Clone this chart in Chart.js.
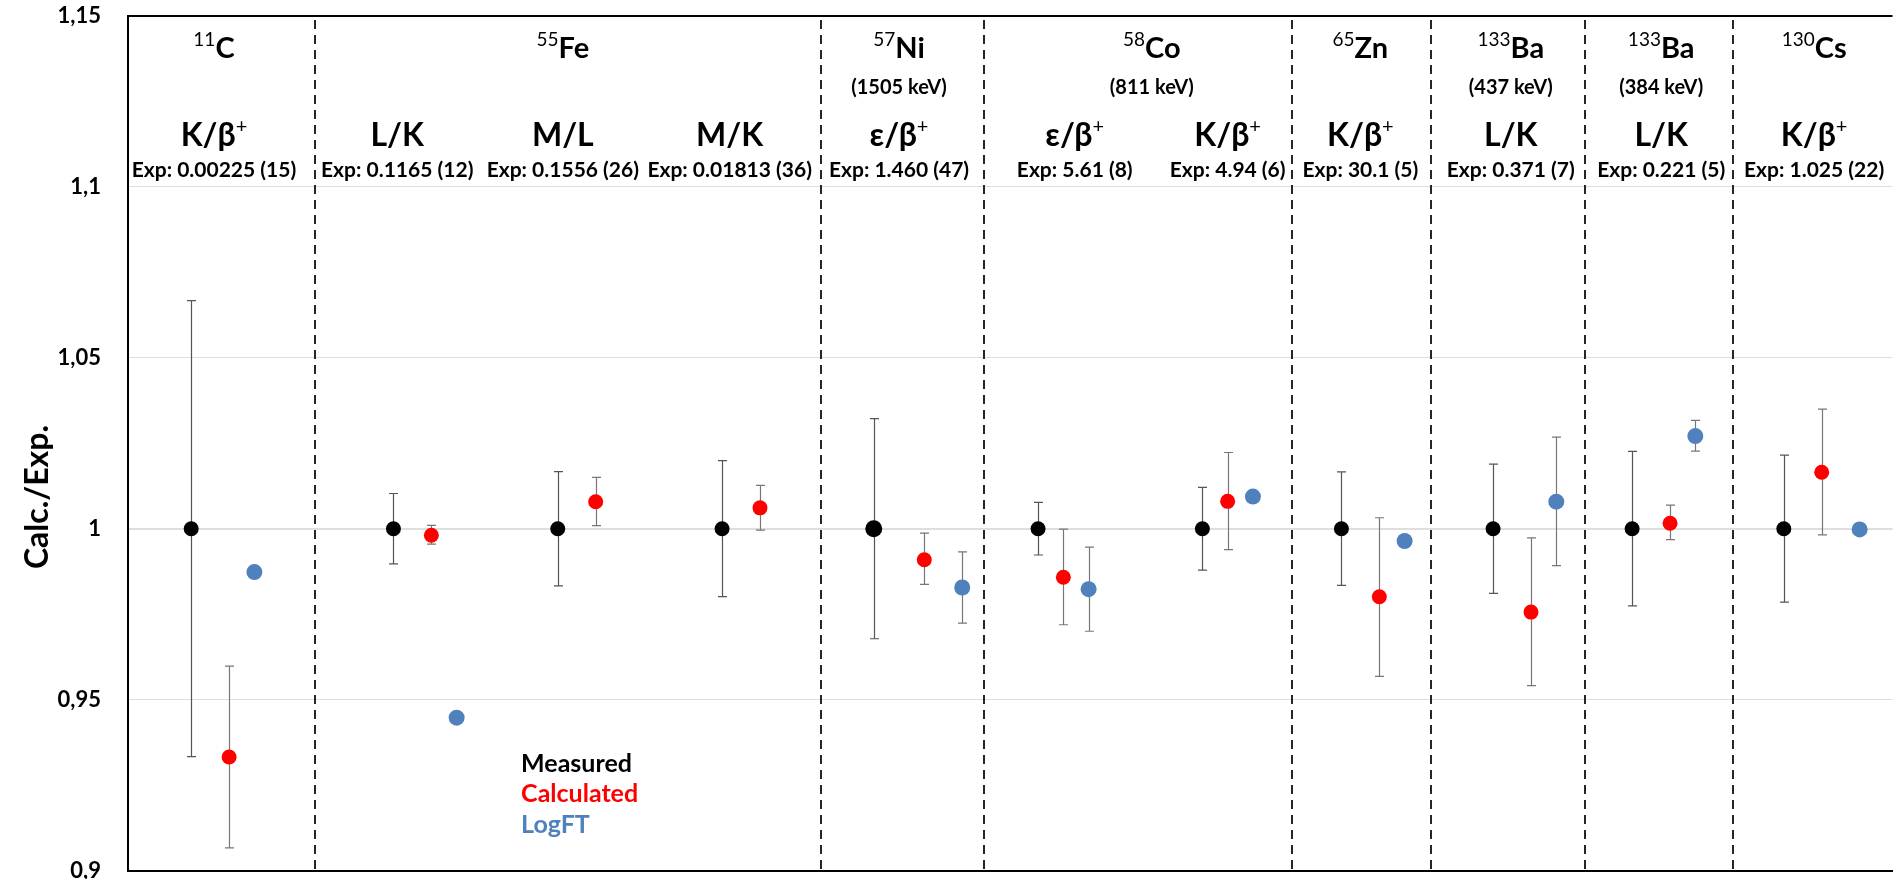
<!DOCTYPE html>
<html>
<head>
<meta charset="utf-8">
<script src="https://cdn.jsdelivr.net/npm/chart.js@4.4.1/dist/chart.umd.min.js"></script>
<style>
  html, body { margin: 0; padding: 0; background: #fff; }
</style>
</head>
<body>
<canvas id="myChart" width="1901" height="879"></canvas>
<script>
// ---- data ----
const tickLabels = ['0,9', '0,95', '1', '1,05', '1,1', '1,15'];

const ratios = ['K/β+', 'L/K', 'M/L', 'M/K', 'ε/β+', 'ε/β+', 'K/β+', 'K/β+', 'L/K', 'L/K', 'K/β+'];
const expValues = ['0.00225 (15)', '0.1165 (12)', '0.1556 (26)', '0.01813 (36)', '1.460 (47)',
  '5.61 (8)', '4.94 (6)', '30.1 (5)', '0.371 (7)', '0.221 (5)', '1.025 (22)'];

const isoMass = ['11', '55', '57', '58', '65', '133', '133', '130'];
const isoElem = ['C', 'Fe', 'Ni', 'Co', 'Zn', 'Ba', 'Ba', 'Cs'];
const isoEnergy = ['', '', '(1505 keV)', '(811 keV)', '', '(437 keV)', '(384 keV)', ''];

// measured = 1 with relative exp. uncertainty
const measuredX = [0.5, 2.1, 3.4, 4.7, 5.9, 7.2, 8.5, 9.6, 10.8, 11.9, 13.1];
const measuredY = [1, 1, 1, 1, 1, 1, 1, 1, 1, 1, 1];
const measuredErr = [0.0667, 0.0103, 0.0167, 0.0199, 0.0322, 0.0077, 0.0121, 0.0166, 0.0189, 0.0226, 0.0215];

const calcX = [0.8, 2.4, 3.7, 5.0, 6.3, 7.4, 8.7, 9.9, 11.1, 12.2, 13.4];
const calcY = [0.9332, 0.9981, 1.0079, 1.0061, 0.9909, 0.9858, 1.0080, 0.9801, 0.9756, 1.0016, 1.0165];
const calcHi = [0.9598, 1.0010, 1.0150, 1.0127, 0.9987, 0.9999, 1.0223, 1.0032, 0.9973, 1.0069, 1.0350];
const calcLo = [0.9066, 0.9955, 1.0009, 0.9996, 0.9837, 0.9719, 0.9939, 0.9568, 0.9541, 0.9968, 0.9982];

const logftX = [1.0, 2.6, null, null, 6.6, 7.6, 8.9, 10.1, 11.3, 12.4, 13.7];
const logftY = [0.9873, 0.9447, null, null, 0.9828, 0.9823, 1.0094, 0.9964, 1.0079, 1.0271, 0.9998];
const logftHi = [null, null, null, null, 0.9932, 0.9946, null, null, 1.0268, 1.0317, null];
const logftLo = [null, null, null, null, 0.9724, 0.9700, null, null, 0.9892, 1.0227, null];

// ---- layout (x in axis units) ----
const separators = [1.48, 5.48, 6.77, 9.21, 10.31, 11.53, 12.70];
const colCenters = [0.68, 2.13, 3.44, 4.76, 6.1, 7.49, 8.7, 9.75, 10.94, 12.13, 13.34];
const isoCenters = [0.68, 3.44, 6.1, 8.1, 9.75, 10.94, 12.13, 13.34];

const FONT = "Lato, 'Open Sans', 'DejaVu Sans', sans-serif";
const RED = '#ff0000';
const BLUE = '#4f81bd';

const pts = (xs, ys) => xs.map((x, i) => ({ x: x, y: ys[i] })).filter(p => p.x !== null);

// draws text with a superscript part, centred on cx
function drawRich(ctx, parts, cx, base) {
  let w = 0;
  parts.forEach(p => { ctx.font = p.font; w += ctx.measureText(p.t).width; });
  let xx = cx - w / 2;
  ctx.textAlign = 'left';
  ctx.textBaseline = 'alphabetic';
  parts.forEach(p => {
    ctx.font = p.font;
    ctx.fillText(p.t, xx, base + (p.dy || 0));
    xx += ctx.measureText(p.t).width;
  });
}

function errBar(ctx, x, y, xv, lo, hi) {
  const px = Math.round(x.getPixelForValue(xv)) + 0.5;
  const pl = y.getPixelForValue(lo), ph = y.getPixelForValue(hi);
  ctx.beginPath();
  ctx.moveTo(px, ph); ctx.lineTo(px, pl);
  ctx.moveTo(px - 4.5, ph); ctx.lineTo(px + 4.5, ph);
  ctx.moveTo(px - 4.5, pl); ctx.lineTo(px + 4.5, pl);
  ctx.stroke();
}

const annot = {
  id: 'annot',
  beforeDatasetsDraw(chart) {
    const { ctx, chartArea, scales: { x, y } } = chart;
    ctx.save();
    // dashed separators
    ctx.strokeStyle = '#262626';
    ctx.lineWidth = 2;
    ctx.setLineDash([9, 6]);
    separators.forEach(v => {
      const px = Math.round(x.getPixelForValue(v));
      ctx.beginPath();
      ctx.moveTo(px, chartArea.top + 4);
      ctx.lineTo(px, chartArea.bottom);
      ctx.stroke();
    });
    ctx.setLineDash([]);

    // error bars
    ctx.lineWidth = 1.2;
    ctx.strokeStyle = '#555';
    measuredX.forEach((xv, i) => errBar(ctx, x, y, xv, measuredY[i] - measuredErr[i], measuredY[i] + measuredErr[i]));
    ctx.strokeStyle = '#777';
    calcX.forEach((xv, i) => errBar(ctx, x, y, xv, calcLo[i], calcHi[i]));
    logftX.forEach((xv, i) => {
      if (xv !== null && logftHi[i] !== null) errBar(ctx, x, y, xv, logftLo[i], logftHi[i]);
    });
    ctx.restore();
  },
  afterDraw(chart) {
    const { ctx, scales: { x, y } } = chart;
    ctx.save();
    ctx.fillStyle = '#000';

    // isotope names
    isoMass.forEach((m, i) => {
      const cx = x.getPixelForValue(isoCenters[i]);
      drawRich(ctx, [
        { t: m, font: '19px ' + FONT, dy: -12 },
        { t: isoElem[i], font: 'bold 29px ' + FONT }
      ], cx, y.getPixelForValue(1.1377));
      if (isoEnergy[i]) {
        drawRich(ctx, [{ t: isoEnergy[i], font: 'bold 20px ' + FONT }], cx, y.getPixelForValue(1.1272));
      }
    });

    // ratio names and experimental values
    ratios.forEach((r, i) => {
      const cx = x.getPixelForValue(colCenters[i]);
      const parts = r.endsWith('+')
        ? [{ t: r.slice(0, -1), font: 'bold 32px ' + FONT }, { t: '+', font: '20px ' + FONT, dy: -13 }]
        : [{ t: r, font: 'bold 32px ' + FONT }];
      drawRich(ctx, parts, cx, y.getPixelForValue(1.112));
      drawRich(ctx, [{ t: 'Exp: ' + expValues[i], font: 'bold 21px ' + FONT }], cx, y.getPixelForValue(1.1029));
    });

    // text legend
    const lx = x.getPixelForValue(3.11);
    ctx.textAlign = 'left';
    ctx.textBaseline = 'alphabetic';
    ctx.font = 'bold 25px ' + FONT;
    ctx.fillStyle = '#000';
    ctx.fillText('Measured', lx, y.getPixelForValue(0.9289));
    ctx.fillStyle = RED;
    ctx.fillText('Calculated', lx, y.getPixelForValue(0.9199));
    ctx.fillStyle = BLUE;
    ctx.fillText('LogFT', lx, y.getPixelForValue(0.9111));

    // y axis title
    ctx.fillStyle = '#000';
    ctx.translate(38, 497);
    ctx.rotate(-Math.PI / 2);
    ctx.textAlign = 'center';
    ctx.textBaseline = 'middle';
    ctx.font = 'bold 32px ' + FONT;
    ctx.fillText('Calc./Exp.', 0, 0);
    ctx.restore();
  }
};

const ctx = document.getElementById('myChart').getContext('2d');
const myChart = new Chart(ctx, {
  type: 'scatter',
  data: {
    datasets: [
      {
        label: 'Measured',
        data: pts(measuredX, measuredY),
        backgroundColor: '#000',
        borderColor: '#000',
        pointRadius: measuredX.map((_, i) => i === 4 ? 8.5 : 7.5),
        borderWidth: 0
      },
      {
        label: 'Calculated',
        data: pts(calcX, calcY),
        backgroundColor: RED,
        borderColor: RED,
        pointRadius: 7.5,
        borderWidth: 0
      },
      {
        label: 'LogFT',
        data: pts(logftX, logftY),
        backgroundColor: BLUE,
        borderColor: BLUE,
        pointRadius: 8,
        borderWidth: 0
      }
    ]
  },
  options: {
    responsive: false,
    animation: false,
    layout: { padding: { top: 16, bottom: 8, left: 0, right: 0 } },
    plugins: { legend: { display: false }, tooltip: { enabled: false } },
    scales: {
      x: {
        type: 'linear',
        min: 0,
        max: 13.96,
        grid: { display: false, drawTicks: false },
        ticks: { display: false },
        border: { display: true, color: '#000', width: 2 },
        afterFit(a) { a.height = 0; a.paddingLeft = 0; a.paddingRight = 0; }
      },
      y: {
        min: 0.9,
        max: 1.15,
        ticks: {
          stepSize: 0.05,
          padding: 27,
          color: '#000',
          font: { family: FONT, size: 22, weight: 'bold' },
          callback: (v, i) => tickLabels[i]
        },
        grid: {
          drawTicks: false,
          color: c => {
            const v = c.tick ? c.tick.value : 0;
            if (Math.abs(v - 1.15) < 1e-6) return '#000';
            if (Math.abs(v - 0.9) < 1e-6) return 'rgba(0,0,0,0)';
            return '#dedede';
          },
          lineWidth: c => {
            const v = c.tick ? c.tick.value : 0;
            if (Math.abs(v - 1.15) < 1e-6) return 2;
            if (Math.abs(v - 1) < 1e-6) return 2;
            return 1;
          }
        },
        border: { color: '#000', width: 2 },
        afterFit(a) { a.width = 128; a.paddingTop = 0; a.paddingBottom = 0; }
      }
    }
  },
  plugins: [annot]
});
</script>
</body>
</html>
